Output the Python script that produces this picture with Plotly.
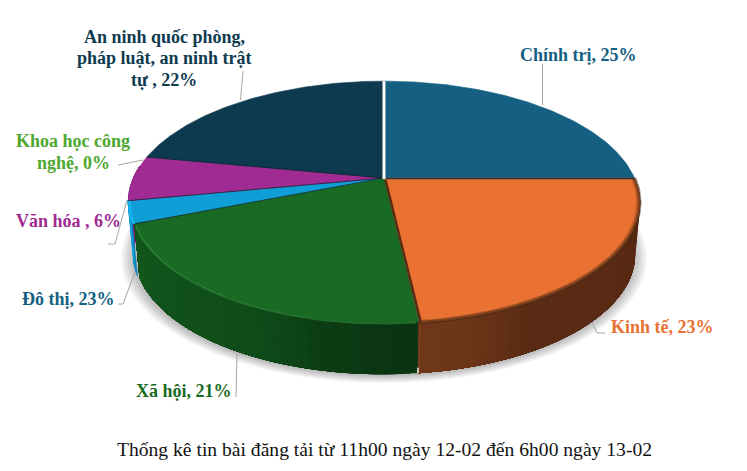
import numpy as np
import plotly.graph_objects as go

# slice sizes as drawn (the source labels say 23% for Do thi, the wedge is 3%)
categories = ["Chính trị", "Kinh tế", "Xã hội", "Đô thị", "Văn hóa", "Khoa học công nghệ", "An ninh quốc phòng, pháp luật, an ninh trật tự"]
values = [25, 23.2, 20.8, 3, 6, 0, 22]
label_texts = [
    ["Chính trị, 25%"],
    ["Kinh tế, 23%"],
    ["Xã hội, 21%"],
    ["Đô thị, 23%"],
    ["Văn hóa , 6%"],
    ["Khoa học công", "nghệ, 0%"],
    ["An ninh quốc phòng,", "pháp luật, an ninh trật", "tự , 22%"],
]
title_text = "Thống kê tin bài đăng tải từ 11h00 ngày 12-02 đến 6h00 ngày 13-02"

face_colors = ["#156082", "#E97132", "#196B24", "#0F9ED5", "#A02B93", "#4EA72E", "#0E3A4F"]
label_colors = ["#156082", "#E97132", "#196B24", "#156082", "#A02B93", "#4EA72E", "#0E3A4F"]
label_pos = [(578, 55), (662, 327), (184, 391), (68, 299), (68, 221), (73, 152), (164, 58)]
leaders = [
    [(542.5, 64), (542.5, 105)],
    [(592, 322), (597, 333), (605, 333)],
    [(237, 354), (236, 397)],
    [(135, 272), (123, 304), (118, 304)],
    [(127, 200), (115, 244), (108, 244)],
    [(118, 165), (143, 160)],
    [(243, 71), (240.5, 100)],
]
# wall shading: (angle, colour) stops, clockwise from 12 o'clock
wall_stops = {
    1: [(85, (88, 42, 20)), (150, (90, 42, 20)), (165, (108, 54, 24)), (174, (112, 56, 26))],
    2: [(174, (10, 52, 18)), (190, (12, 60, 20)), (205, (16, 76, 26)), (235, (18, 84, 28)), (249, (20, 90, 30))],
    3: [(249, (15, 130, 185)), (260, (20, 170, 230))],
    4: [(260, (120, 30, 110)), (276, (120, 30, 110))],
}

CX, CY = 384, 178
HALF_W, HALF_H, PERSP = 250.5, 116.4, 0.2016
WALL_DROP, WALL_SCALE = 53, 0.98
LINE_GAP = 21.5
GREEN = 2  # the green slice sits slightly inside the others


def slice_scale(i):
    return 0.99 if i == GREEN else 1.0


def project(theta, scale=1.0, drop=0.0):
    t = np.radians(theta)
    sx, sy = np.sin(t), -np.cos(t)
    den = 1 - PERSP * sy
    return CX + scale * HALF_W * sx / den, CY + scale * HALF_H * sy / den + drop


def poly(fig, xs, ys, fill):
    fig.add_trace(go.Scatter(x=xs, y=ys, mode="lines", fill="toself", fillcolor=fill,
                             line=dict(width=0.6, color=fill), hoverinfo="skip", showlegend=False))


def path(fig, xs, ys, color, width):
    fig.add_trace(go.Scatter(x=xs, y=ys, mode="lines", line=dict(width=width, color=color),
                             hoverinfo="skip", showlegend=False))


ends = np.cumsum(values) * 3.6
starts = np.concatenate([[0], ends[:-1]])

fig = go.Figure()

# soft shadow under the pie
ring = np.linspace(0, 360, 240)
for grow in np.linspace(1.05, 1.0, 8):
    sx, sy = project(ring, WALL_SCALE * grow, WALL_DROP + 2)
    fig.add_trace(go.Scatter(x=sx, y=sy, mode="lines", line=dict(width=0), fill="toself",
                             fillcolor="rgba(0,0,0,0.035)", hoverinfo="skip", showlegend=False))

# side walls: each strip runs to the slice end and the next one paints over it, so no seams
for i in [4, 3, 2, 1]:
    stops = wall_stops[i]
    lo, hi = max(starts[i], 85), min(ends[i], 276)
    edges = np.linspace(lo, hi, int((hi - lo) / 1.5) + 2)
    s = slice_scale(i)
    for a, b in zip(edges[:-1], edges[1:]):
        mid = (a + b) / 2
        rgb = [np.interp(mid, [p[0] for p in stops], [p[1][c] for p in stops]) for c in range(3)]
        arc = np.linspace(a, hi, 40)
        tx, ty = project(arc, s)
        bx, by = project(arc[::-1], s * WALL_SCALE, WALL_DROP + (1 - s) * 150)
        poly(fig, np.r_[tx, bx, tx[0]], np.r_[ty, by, ty[0]], "rgb(%d,%d,%d)" % tuple(rgb))

# gap and lit edge where the orange wall meets the green one
tx, ty = project(ends[1])
bx, by = project(ends[1], WALL_SCALE, WALL_DROP)
path(fig, [tx + 0.5, bx + 0.5], [ty + 2, by], "#7A3E1C", 2)
path(fig, [bx - 0.6, bx - 0.8], [by - 5, by + 0.5], "white", 1.4)

# top faces
for i in range(len(values)):
    if values[i] == 0:
        continue
    arc = np.linspace(starts[i], ends[i], 120)
    ax, ay = project(arc, slice_scale(i))
    poly(fig, np.r_[CX, ax, CX], np.r_[CY, ay, CY], face_colors[i])

# rim bevel on the front slices
for grow, col, w in [(1.0, "rgba(70,40,20,0.55)", 3.5), (0.992, "rgba(90,45,20,0.3)", 3)]:
    arc = np.linspace(starts[1], ends[1], 100)
    rx, ry = project(arc, grow)
    path(fig, rx, ry, col, w)
arc = np.linspace(starts[GREEN] + 0.5, ends[GREEN] - 0.5, 100)
rx, ry = project(arc, 0.998 * slice_scale(GREEN))
path(fig, rx, ry + 1.5, "rgba(55,150,65,0.55)", 2)
arc = np.linspace(starts[3], ends[3], 20)
rx, ry = project(arc, 0.995)
path(fig, rx, ry, "rgba(30,190,250,0.7)", 2.5)

# slice edges
for i in [2, 3, 4, 6]:
    ex, ey = project(ends[i], slice_scale(i))
    path(fig, [CX, ex], [CY, ey], "rgba(15,35,45,0.75)", 1)
ex, ey = project(ends[0])
path(fig, [CX, ex], [CY + 0.5, ey + 0.5], "rgba(25,45,60,0.9)", 1.6)
ex, ey = project(ends[1])
path(fig, [CX + 1.5, ex + 1.5], [CY + 2, ey], "#5C2B14", 2.5)
ex, ey = project(starts[0])
path(fig, [CX, ex], [CY + 1, ey], "rgba(150,160,165,0.9)", 3.6)
path(fig, [CX, ex], [CY + 1, ey], "white", 2.4)

# leader lines and labels
for pts in leaders:
    path(fig, [p[0] for p in pts], [p[1] for p in pts], "#A6A6A6", 1)

for lines, col, pos in zip(label_texts, label_colors, label_pos):
    top = pos[1] - LINE_GAP * (len(lines) - 1) / 2
    for n, line in enumerate(lines):
        fig.add_annotation(x=pos[0], y=top + n * LINE_GAP, text=line, showarrow=False, xanchor="center",
                           yanchor="middle", font=dict(family="Liberation Serif", size=18, color=col, weight="bold"))
fig.add_annotation(x=384, y=449, text=title_text, showarrow=False, xanchor="center", yanchor="middle",
                   font=dict(family="Liberation Serif", size=19.6, color="#111111"))

fig.update_layout(
    width=747, height=471, margin=dict(l=0, r=0, t=0, b=0),
    paper_bgcolor="white", plot_bgcolor="white", showlegend=False,
    xaxis=dict(range=[0, 747], visible=False, fixedrange=True),
    yaxis=dict(range=[471, 0], visible=False, fixedrange=True),
)

fig.write_html("out.html", config={"displayModeBar": False},
               post_script="document.body.style.margin='0';")
